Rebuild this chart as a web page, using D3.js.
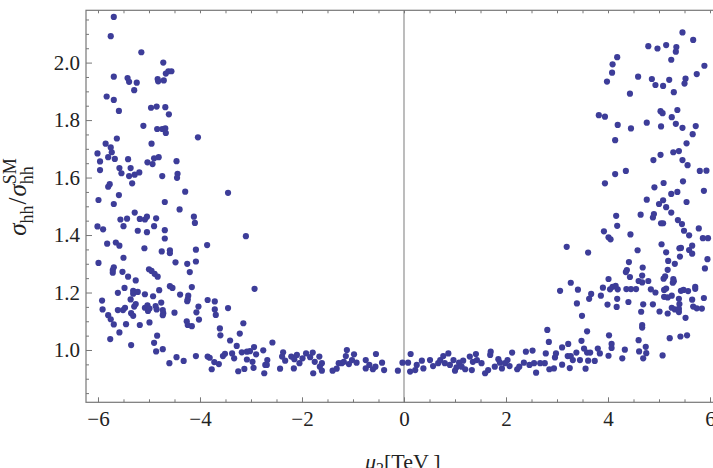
<!DOCTYPE html>
<html>
<head>
<meta charset="utf-8">
<script src="https://cdn.jsdelivr.net/npm/d3@7"></script>
<style>
  body { margin: 0; background: #fff; }
  svg { display: block; }
  .frame path.domain { display: none; }
  .tick line { stroke: #777; }
</style>
</head>
<body>
<script>
var width = 713;
var height = 468;

// scan points, (mu2 [TeV], sigma_hh / sigma_hh^SM)
var negUpper = [
  [-5.69,2.159],[-5.75,2.092],[-5.15,2.036],[-4.72,2.00],[-4.67,1.962],[-4.62,1.970],[-4.56,1.970],
  [-5.69,1.951],[-5.42,1.946],[-5.39,1.933],[-5.24,1.930],[-5.29,1.904],[-4.83,1.943],[-4.82,1.935],
  [-4.71,1.938],[-5.83,1.882],[-5.69,1.870],[-5.59,1.832],[-4.96,1.843],[-4.85,1.847],[-4.68,1.845],
  [-4.61,1.820],[-5.11,1.780],[-4.84,1.769],[-4.74,1.769],[-4.68,1.771],[-4.67,1.755],[-4.04,1.740],
  [-5.63,1.736],[-5.85,1.718],[-4.95,1.718],[-5.75,1.705],[-5.73,1.688],[-6.01,1.684],[-5.80,1.671],
  [-5.67,1.665],[-5.96,1.656],[-5.41,1.664],[-4.81,1.671],[-4.90,1.667],[-5.03,1.653],[-4.93,1.647],
  [-4.46,1.657],[-5.96,1.626],[-5.58,1.633],[-5.36,1.633],[-5.54,1.615],[-5.39,1.605],[-5.28,1.610],
  [-5.19,1.618],[-4.44,1.613],[-4.45,1.599],[-4.74,1.605],[-5.33,1.580],[-5.77,1.577],[-5.80,1.568],
  [-4.29,1.551],[-3.45,1.547],[-5.59,1.539],[-5.99,1.522],[-5.69,1.508],[-4.69,1.515],[-4.40,1.489]
];

var negLower = [
  [-5.28,1.478],[-4.12,1.464],[-4.10,1.442],[-5.56,1.454],[-5.43,1.457],[-5.18,1.456],[-5.08,1.454],
  [-5.04,1.464],[-4.86,1.458],[-5.50,1.431],[-6.01,1.430],[-5.90,1.420],[-5.22,1.415],[-5.04,1.410],
  [-4.90,1.431],[-4.69,1.417],[-4.69,1.388],[-3.10,1.396],[-5.82,1.370],[-5.65,1.374],[-5.58,1.363],
  [-5.09,1.354],[-4.75,1.343],[-4.59,1.347],[-4.59,1.337],[-4.08,1.349],[-3.86,1.365],[-5.50,1.321],
  [-5.99,1.303],[-4.48,1.305],[-4.25,1.300],[-4.08,1.308],[-4.20,1.271],[-5.69,1.288],[-5.71,1.278],
  [-5.71,1.269],[-5.52,1.272],[-5.00,1.281],[-4.95,1.275],[-4.89,1.265],[-4.83,1.255],[-5.41,1.255],
  [-5.26,1.242],[-4.59,1.222],[-4.54,1.216],[-4.16,1.219],[-5.48,1.216],[-5.61,1.199],[-5.31,1.206],
  [-5.31,1.196],[-5.22,1.202],[-5.08,1.194],[-4.80,1.208],[-4.39,1.193],[-4.23,1.189],[-4.24,1.177],
  [-4.25,1.170],[-4.92,1.187],[-5.36,1.176],[-5.92,1.172],[-5.91,1.141],[-5.80,1.121],[-5.75,1.107],
  [-5.69,1.089],[-5.76,1.038],[-5.35,1.017],[-5.58,1.061],[-5.45,1.090],[-5.61,1.139],[-5.47,1.147],
  [-5.51,1.139],[-5.29,1.151],[-5.26,1.160],[-5.35,1.128],[-5.31,1.119],[-5.18,1.087],[-5.08,1.147],
  [-5.03,1.155],[-5.02,1.136],[-4.99,1.144],[-4.87,1.153],[-4.85,1.141],[-4.76,1.165],[-4.73,1.139],
  [-4.72,1.128],[-4.73,1.121],[-4.99,1.096],[-4.50,1.130],[-4.03,1.151],[-4.07,1.131],[-4.02,1.106],
  [-4.26,1.100],[-4.24,1.087],[-4.16,1.083],[-3.85,1.174],[-3.71,1.169],[-3.71,1.141],[-3.69,1.122],
  [-3.45,1.146],[-2.93,1.213],[-3.61,1.075],[-3.60,1.051],[-3.15,1.093],[-3.22,1.057],[-4.84,1.050],
  [-4.90,1.025],[-4.86,0.995],[-4.73,1.003],[-4.46,0.975],[-4.60,0.954],[-4.32,0.962],[-4.08,0.979],
  [-3.85,0.977],[-3.81,0.973],[-3.72,0.958],[-3.77,0.933],[-3.63,0.951],[-3.55,0.979],[-3.51,0.987],
  [-3.41,1.033],[-3.28,1.014],[-3.37,0.988],[-3.33,0.971],[-3.18,0.992],[-3.08,0.994],[-3.02,0.996],
  [-2.94,1.010],[-3.08,0.967],[-2.97,0.959],[-2.90,0.985],[-2.95,0.938],[-3.13,0.934],[-3.25,0.926],
  [-2.76,0.999],[-2.72,0.948],[-2.74,0.919]
];

var flatBand = [
  [-2.58,1.026],[-2.68,0.965],[-2.69,0.948],[-2.43,0.935],[-2.37,0.992],[-2.39,0.977],[-2.33,0.963],
  [-2.21,0.977],[-2.15,0.968],[-2.10,0.983],[-2.16,0.936],[-2.05,0.954],[-1.99,0.971],[-1.92,0.988],
  [-1.84,0.975],[-1.79,0.991],[-1.75,0.959],[-1.78,0.919],[-1.66,0.977],[-1.61,0.954],[-1.65,0.942],
  [-1.61,0.928],[-1.40,0.928],[-1.32,0.935],[-1.28,0.954],[-1.22,0.954],[-1.18,0.959],[-1.12,1.000],
  [-1.14,0.979],[-1.08,0.951],[-1.02,0.965],[-0.98,0.985],[-0.93,0.956],[-0.75,0.965],[-0.75,0.936],
  [-0.68,0.948],[-0.55,0.986],[-0.61,0.933],[-0.56,0.942],[-0.43,0.956],[-0.39,0.930],[-0.12,0.928],
  [-0.03,0.956],[0.13,0.986],[0.08,0.956],[0.12,0.925],[0.22,0.930],[0.25,0.948],[0.35,0.963],
  [0.38,0.936],[0.51,0.965],[0.57,0.944],[0.67,0.954],
  [0.71,0.965],[0.77,0.979],[0.87,0.988],[0.80,0.954],[0.90,0.948],[0.97,0.965],[1.03,0.940],
  [1.00,0.928],[1.08,0.956],[1.13,0.942],[1.16,0.963],[1.20,0.933],[1.29,0.977],[1.35,0.959],
  [1.41,0.986],[1.43,0.965],[1.33,0.930],[1.52,0.954],[1.59,0.919],[1.65,0.930],[1.69,0.983],
  [1.70,0.994],[1.78,0.942],[1.85,0.968],[1.88,0.956],[1.92,0.936],[1.98,0.954],[2.03,0.965],
  [2.07,0.944],[2.12,0.991],[2.22,0.933],[2.26,0.942],[2.35,0.956],[2.39,0.994],[2.46,0.948],
  [2.52,0.998],[2.55,0.954],[2.59,0.921],[2.67,0.954],[2.76,0.954],[2.78,0.988],[2.81,1.070],
  [2.84,1.028],[2.85,0.933],[2.94,0.936],[2.96,0.974],[2.98,0.988]
];

var posUpper = [
  [5.46,2.105],[5.67,2.079],[4.79,2.057],[4.97,2.049],[5.14,2.061],[5.34,2.054],[5.33,2.038],
  [5.24,2.010],[4.18,2.019],[4.09,1.994],[4.08,1.965],[3.98,1.934],[4.59,1.951],[4.86,1.943],
  [4.93,1.922],[5.08,1.919],[5.20,1.940],[5.52,1.944],[5.50,1.927],[5.74,1.960],[5.89,1.989],
  [5.29,1.897],[4.43,1.892],[3.82,1.817],[3.94,1.812],[5.03,1.831],[5.07,1.824],[5.36,1.835],
  [5.25,1.810],[4.19,1.783],[4.45,1.771],[4.76,1.791],[5.04,1.778],[5.33,1.787],[5.46,1.773],
  [5.72,1.779],[5.66,1.751],[4.14,1.730],[5.54,1.719],[5.28,1.688],[5.39,1.692],[5.03,1.679],
  [4.89,1.661],[5.46,1.661],[5.56,1.643],[4.14,1.612],[4.35,1.623],[5.80,1.623],[5.93,1.624],
  [3.94,1.580],[5.09,1.581],[4.91,1.566],[5.47,1.587],[5.36,1.550],[5.24,1.543],[5.88,1.554],
  [4.76,1.523],[5.08,1.521],[5.00,1.508],[5.14,1.497],[5.54,1.515]
];

var posLower = [
  [5.24,1.478],[4.16,1.467],[4.18,1.432],[4.64,1.471],[4.90,1.473],[4.88,1.461],[5.04,1.441],
  [5.08,1.441],[5.37,1.452],[5.45,1.438],[5.49,1.415],[5.59,1.399],[5.78,1.423],[5.86,1.389],
  [5.96,1.389],[3.92,1.413],[4.01,1.392],[4.05,1.385],[4.44,1.402],[3.19,1.359],[3.61,1.339],
  [4.58,1.347],[5.05,1.368],[5.14,1.340],[5.40,1.354],[5.43,1.355],[5.59,1.348],[5.65,1.363],
  [5.65,1.335],[5.41,1.325],[5.18,1.310],[5.31,1.300],[5.95,1.316],[5.90,1.284],[4.41,1.306],
  [4.37,1.278],[4.35,1.271],[4.43,1.254],[4.68,1.287],[4.67,1.259],[4.60,1.240],[4.67,1.235],
  [4.79,1.240],[5.17,1.279],[5.12,1.256],[5.09,1.248],[5.28,1.247],[5.29,1.239],[5.27,1.234],
  [4.01,1.247],[3.27,1.234],[3.06,1.206],[3.41,1.210],[3.67,1.195],[3.63,1.178],[3.86,1.189],
  [3.90,1.217],[4.04,1.211],[4.09,1.220],[4.15,1.223],[4.19,1.211],[4.36,1.212],[4.45,1.212],
  [4.55,1.212],[4.84,1.211],[4.93,1.200],[5.10,1.209],[5.14,1.214],[5.10,1.185],[5.17,1.183],
  [5.25,1.189],[5.43,1.206],[5.48,1.209],[5.57,1.205],[5.71,1.220],[5.71,1.213],[5.88,1.181],
  [5.39,1.178],[5.65,1.175],[4.18,1.178],[4.40,1.167],[3.39,1.162],[3.99,1.158],[4.17,1.150],
  [4.69,1.159],[4.88,1.159],[4.65,1.133],[5.01,1.134],[5.17,1.127],[5.25,1.147],[5.31,1.141],
  [5.40,1.160],[5.39,1.143],[5.39,1.132],[5.67,1.151],[5.74,1.145],[5.84,1.144],[5.52,1.112],
  [3.49,1.119],[4.67,1.087],[4.67,1.078],[3.59,1.065],[5.21,1.041],[5.42,1.047],[5.55,1.051],
  [4.02,1.051],[4.60,1.034],[3.48,1.032],[3.22,1.021],[4.07,1.021],[3.10,1.009],[3.53,1.005],
  [3.80,1.005],[4.07,1.007],[4.74,1.011],[4.33,1.001],[4.61,0.995],[4.75,0.989],[3.38,0.991],
  [3.59,0.991],[3.65,0.991],[3.84,0.988],[3.21,0.979],[3.27,0.979],[3.31,0.965],[3.45,0.965],
  [3.61,0.963],[3.74,0.962],[4.01,0.980],[4.28,0.971],[4.69,0.971],[5.07,0.981],[3.10,0.949],
  [3.25,0.937],[3.56,0.935]
];

var xMajor = [-6, -4, -2, 0, 2, 4, 6];
var yMajor = [1.0, 1.2, 1.4, 1.6, 1.8, 2.0];

var xDomain = [-6.235, 6.235];
var yDomain = [0.818, 2.182];

var serif = "'Liberation Serif', 'DejaVu Serif', serif";

window.onload = function() {
  var svg = d3.select("body")
              .append("svg")
              .attr("width", width)
              .attr("height", height);

  var left = 86, right = 722, top = 10.3, bottom = 402.3;

  var xScale = d3.scaleLinear().domain(xDomain).range([left, right]);
  var yScale = d3.scaleLinear().domain(yDomain).range([bottom, top]);

  // minor ticks every 0.5 (x) and 0.05 (y)
  var xMinor = d3.range(-6, 6.01, 0.5).filter(function(v) { return xMajor.indexOf(v) < 0; });
  var yMinor = d3.range(0.85, 2.16, 0.05).map(function(v) { return +v.toFixed(2); })
                 .filter(function(v) { return yMajor.indexOf(v) < 0; });

  var fmtX = function(d) { return d < 0 ? "\u2212" + (-d) : "" + d; };

  // zero line
  svg.append("line")
     .attr("x1", xScale(0)).attr("x2", xScale(0))
     .attr("y1", top).attr("y2", bottom)
     .attr("stroke", "#999").attr("stroke-width", 1.3);

  // bottom axis
  svg.append("g").attr("class", "frame")
     .attr("transform", "translate(0," + bottom + ")")
     .call(d3.axisBottom(xScale).tickValues(xMajor).tickFormat(fmtX)
             .tickSizeInner(-5).tickSizeOuter(0).tickPadding(9));
  svg.append("g").attr("class", "frame")
     .attr("transform", "translate(0," + bottom + ")")
     .call(d3.axisBottom(xScale).tickValues(xMinor).tickFormat("")
             .tickSizeInner(-3).tickSizeOuter(0));

  // top axis
  svg.append("g").attr("class", "frame")
     .attr("transform", "translate(0," + top + ")")
     .call(d3.axisTop(xScale).tickValues(xMajor.concat(xMinor)).tickFormat("")
             .tickSizeInner(-3).tickSizeOuter(0));

  // left axis
  svg.append("g").attr("class", "frame")
     .attr("transform", "translate(" + left + ",0)")
     .call(d3.axisLeft(yScale).tickValues(yMajor).tickFormat(d3.format(".1f"))
             .tickSizeInner(-6).tickSizeOuter(0).tickPadding(6));
  svg.append("g").attr("class", "frame")
     .attr("transform", "translate(" + left + ",0)")
     .call(d3.axisLeft(yScale).tickValues(yMinor).tickFormat("")
             .tickSizeInner(-3).tickSizeOuter(0));

  svg.selectAll(".frame text")
     .attr("font-family", null)
     .style("font-family", serif)
     .style("font-size", "21px")
     .attr("fill", "#222");

  // frame
  svg.append("rect")
     .attr("x", left).attr("y", top)
     .attr("width", right - left).attr("height", bottom - top)
     .attr("fill", "none").attr("stroke", "#777").attr("stroke-width", 1.2);

  // points
  var allPoints = negUpper.concat(negLower, flatBand, posUpper, posLower);
  svg.selectAll("circle.pt")
     .data(allPoints)
     .enter()
     .append("circle")
     .attr("class", "pt")
     .attr("cx", function(d) { return xScale(d[0]); })
     .attr("cy", function(d) { return yScale(d[1]); })
     .attr("r", 3.1)
     .attr("fill", "#3d3d99");

  // x label
  var xl = svg.append("text")
     .attr("x", 365).attr("y", 469)
     .style("font-family", serif)
     .style("font-size", "22px")
     .attr("fill", "#222");
  xl.append("tspan").style("font-style", "italic").text("\u03bc");
  xl.append("tspan").attr("dy", 5).style("font-size", "16px").text("2");
  xl.append("tspan").attr("dy", -5).text("[TeV\u2009]");

  // y label
  var yl = svg.append("text")
     .style("font-family", serif)
     .style("font-size", "25px")
     .attr("fill", "#222");
  yl.append("tspan").style("font-style", "italic").text("\u03c3");
  yl.append("tspan").attr("dy", 7).style("font-size", "18px").text("hh");
  yl.append("tspan").attr("dy", -7).attr("dx", 1).text("/");
  yl.append("tspan").attr("dx", 1).style("font-style", "italic").text("\u03c3");
  var sm = yl.append("tspan").attr("dy", -10).style("font-size", "18px").text("SM");
  var smW = sm.node().getComputedTextLength();
  var hh2 = yl.append("tspan").attr("dy", 17).attr("dx", -smW).style("font-size", "18px").text("hh");
  var total = yl.node().getComputedTextLength() - hh2.node().getComputedTextLength();
  var startY = 198 + total / 2;
  yl.attr("transform", "translate(26," + startY + ") rotate(-90)");
};
</script>
</body>
</html>
